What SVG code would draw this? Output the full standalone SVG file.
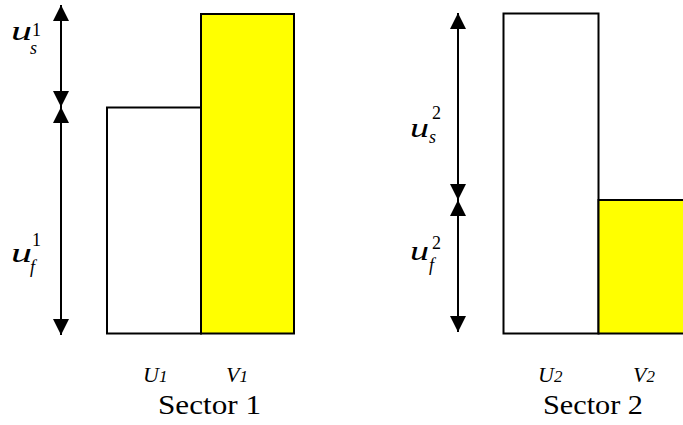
<svg xmlns="http://www.w3.org/2000/svg" width="683" height="425" viewBox="0 0 683 425">
<style>
.bar{stroke:#000;stroke-width:2}
.w{fill:#fff}
.y{fill:#ffff00}
.ax{stroke:#000;stroke-width:2;fill:none;marker-start:url(#ah);marker-end:url(#ah)}
.t{font-family:"Liberation Serif","Times New Roman",Times,"DejaVu Serif",serif;fill:#000}
.it{font-style:italic}
.big{font-size:27px}
.sm{font-size:18px}
.lab{font-size:22px}
.lsub{font-size:17px}
.sec{font-size:28px}
</style>
<defs>
<marker id="ah" markerUnits="userSpaceOnUse" markerWidth="16" markerHeight="16" viewBox="0 0 15 15" refX="15" refY="7.5" orient="auto-start-reverse">
<path d="M0,0 L15,7.5 L0,15 z" fill="#000"/>
</marker>
</defs>
<g id="sector1">
<g id="U1"><rect class="bar w" x="107" y="107.5" width="94" height="226"/></g>
<g id="V1"><rect class="bar y" x="201" y="14" width="93" height="319.5"/></g>
</g>
<g id="sector2">
<g id="U2"><rect class="bar w" x="503.5" y="13.5" width="95" height="320"/></g>
<g id="V2"><rect class="bar y" x="598.5" y="200" width="95" height="133.5"/></g>
</g>
<g id="connectors">
<path class="ax" d="M61,5 L61,107"/>
<path class="ax" d="M61,107 L61,335"/>
<path class="ax" d="M458,13 L458,200"/>
<path class="ax" d="M458,200 L458,332"/>
</g>
<g id="labels">
<text class="t it big" x="11" y="40" textLength="21" lengthAdjust="spacingAndGlyphs">u</text>
<text class="t it sm" x="30" y="54">s</text>
<text class="t sm" x="32" y="36">1</text>
<text class="t it big" x="11" y="262" textLength="21" lengthAdjust="spacingAndGlyphs">u</text>
<text class="t it sm" x="30" y="273">f</text>
<text class="t sm" x="32" y="246">1</text>
<text class="t it big" x="410" y="137" textLength="19" lengthAdjust="spacingAndGlyphs">u</text>
<text class="t it sm" x="429" y="143">s</text>
<text class="t sm" x="432" y="119">2</text>
<text class="t it big" x="410" y="260" textLength="19" lengthAdjust="spacingAndGlyphs">u</text>
<text class="t it sm" x="429" y="271">f</text>
<text class="t sm" x="432" y="249">2</text>
<text class="t it lab" x="143" y="382">U<tspan class="lsub">1</tspan></text>
<text class="t it lab" x="226" y="382">V<tspan class="lsub">1</tspan></text>
<text class="t sec" x="158" y="414" textLength="103" lengthAdjust="spacingAndGlyphs">Sector 1</text>
<text class="t it lab" x="538" y="382">U<tspan class="lsub">2</tspan></text>
<text class="t it lab" x="633" y="382">V<tspan class="lsub">2</tspan></text>
<text class="t sec" x="543" y="414" textLength="100" lengthAdjust="spacingAndGlyphs">Sector 2</text>
</g>
</svg>
